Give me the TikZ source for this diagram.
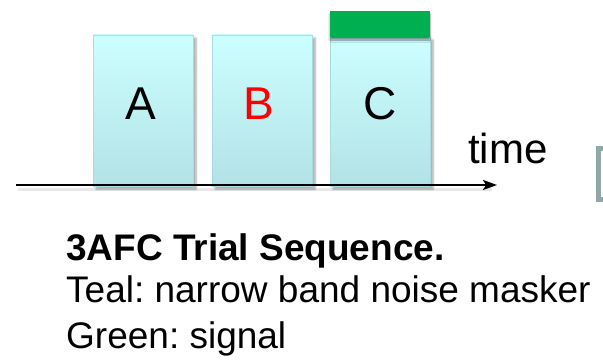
\documentclass[tikz,border=0pt]{standalone}
\usepackage{fontspec}
\setmainfont{Liberation Sans}
\usetikzlibrary{arrows.meta,shadows.blur}
\definecolor{tealtop}{HTML}{CCFFFF}
\definecolor{tealbot}{HTML}{B2E2E6}
\definecolor{tealedge}{HTML}{A8DCE0}
\definecolor{sig}{HTML}{00B050}
\definecolor{cutgray}{HTML}{8FA8A8}
\frenchspacing
\begin{document}
\begin{tikzpicture}[x=1pt,y=-1pt,
  stim/.style={draw=tealedge, line width=0.6pt, top color=tealtop, bottom color=tealbot,
    minimum width=100pt, minimum height=151pt, inner sep=0pt,
    blur shadow={shadow xshift=3pt, shadow yshift=-3pt, shadow blur steps=6, shadow opacity=35}},
  sigbar/.style={fill=sig, draw=none, minimum width=100pt, minimum height=26pt, inner sep=0pt,
    blur shadow={shadow xshift=0pt, shadow yshift=-3pt, shadow blur steps=5, shadow opacity=45}},
  letter/.style={font=\fontsize{46}{50}\selectfont, inner sep=0pt},
  axis/.style={line width=2pt, -{Stealth[length=14pt,width=10pt,inset=3pt]}},
  axshadow/.style={line width=3pt, gray, opacity=0.18},
  caption/.style={anchor=base west, inner sep=0pt, font=\fontsize{37}{44}\selectfont}
]
\useasboundingbox (0,0) rectangle (603,361);
% stimulus intervals
\node[stim] (boxA) at (143,110.5) {};
\node[stim] (boxB) at (262,110.5) {};
\node[stim, minimum height=149pt] (boxC) at (380,111.5) {};
\node[sigbar] (sigC) at (380,24) {};
% letters
\node[letter] (la) at ([xshift=-2pt,yshift=6.5pt]boxA.center) {A};
\node[letter, text=red] (lb) at ([xshift=-3pt,yshift=6.5pt]boxB.center) {B};
\node[letter] (lc) at ([yshift=7.5pt]boxC.center) {C};
% time axis
\coordinate (t0) at (16,185);
\coordinate (t1) at (497,185);
\coordinate (s0) at (18,189);
\coordinate (s1) at (492,189);
\draw[axshadow] (s0) -- (s1);
\draw[axis] (t0) -- (t1);
\node[anchor=base west, inner sep=0pt, font=\fontsize{42}{48}\selectfont] (time) at (468,164) {time};
% partial box at right edge
\node[draw=cutgray, line width=5pt, fill=white, minimum width=30pt, minimum height=51pt, inner sep=0pt] (cut) at (613.5,174) {};
% caption
\node[caption, font=\fontsize{37}{44}\selectfont\bfseries] (cap1) at (66,260.5) {3AFC Trial Sequence.};
\node[caption] (cap2) at (66,302) {Teal: narrow band noise masker};
\node[caption] (cap3) at (66,348) {Green: signal};
\end{tikzpicture}
\end{document}
